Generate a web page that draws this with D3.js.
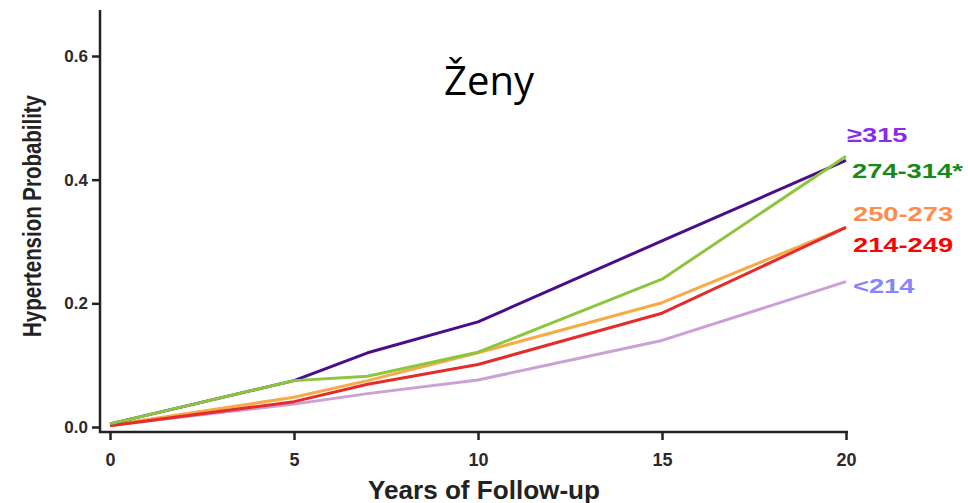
<!DOCTYPE html>
<html>
<head>
<meta charset="utf-8">
<script src="https://cdn.jsdelivr.net/npm/d3@7"></script>
<style>
  body { margin: 0; background: #fff; }
  svg { display: block; }
  .tick text { font-family: "Liberation Sans", Arial, sans-serif; font-weight: bold; fill: #2a2a2a; }
</style>
</head>
<body>
<svg id="chart" width="968" height="503"></svg>
<script>
// Data

var years = [0, 5, 7, 10, 15, 20];
var groups = ["≥315", "274-314*", "250-273", "214-249", "<214"];
var lt214 = [0.003, 0.037, 0.054, 0.076, 0.140, 0.235];
var g214_249 = [0.002, 0.041, 0.069, 0.101, 0.184, 0.323];
var g250_273 = [0.003, 0.048, 0.075, 0.120, 0.201, 0.323];
var g274_314 = [0.005, 0.075, 0.082, 0.121, 0.239, 0.438];
var ge315 = [0.005, 0.075, 0.120, 0.170, 0.301, 0.431];
var xTicks = [0, 5, 10, 15, 20];
var yTicks = [0, 0.2, 0.4, 0.6];

// Styles

var lineColors = {"≥315": "#4a0d8c", "274-314*": "#8cc63f", "250-273": "#f7aa45", "214-249": "#e62b2b", "<214": "#c9a1d4"};
var labelColors = {"≥315": "#8a2be8", "274-314*": "#168a16", "250-273": "#ff8c4c", "214-249": "#ff0000", "<214": "#8585ff"};
var labelY = {"≥315": 142, "274-314*": 178, "250-273": 221, "214-249": 252, "<214": 293};
var labelX = {"≥315": 847, "274-314*": 852, "250-273": 853, "214-249": 853, "<214": 853};

var seriesData = {"≥315": ge315, "274-314*": g274_314, "250-273": g250_273, "214-249": g214_249, "<214": lt214};
var drawOrder = ["<214", "250-273", "214-249", "≥315", "274-314*"];

// Chart

var svg = d3.select("#chart");

var x = d3.scaleLinear().domain([0, 20]).range([110, 846]);
var y = d3.scaleLinear().domain([0, 0.6]).range([427, 56]);
var axisX = 100, axisY = 432;

// y axis
var yAxis = svg.append("g")
    .attr("transform", "translate(" + axisX + ",0)")
    .call(d3.axisLeft(y).tickValues(yTicks).tickFormat(d3.format(".1f")).tickSize(8).tickSizeOuter(0));
yAxis.select(".domain").remove();
yAxis.selectAll(".tick line").attr("stroke", "#222").attr("stroke-width", 2.5);
yAxis.selectAll(".tick text").attr("font-size", 17).attr("x", -12);

svg.append("line")
    .attr("x1", axisX).attr("x2", axisX)
    .attr("y1", 10).attr("y2", axisY + 1)
    .attr("stroke", "#222").attr("stroke-width", 2.5);

// x axis
var xAxis = svg.append("g")
    .attr("transform", "translate(0," + axisY + ")")
    .call(d3.axisBottom(x).tickValues(xTicks).tickSize(8).tickSizeOuter(0));
xAxis.select(".domain").remove();
xAxis.selectAll(".tick line").attr("stroke", "#222").attr("stroke-width", 2.5);
xAxis.selectAll(".tick text").attr("font-size", 18).attr("y", 21);

svg.append("line")
    .attr("x1", axisX - 1).attr("x2", x(20) + 2)
    .attr("y1", axisY).attr("y2", axisY)
    .attr("stroke", "#222").attr("stroke-width", 2.5);

// lines
var line = d3.line()
    .x(function(d, i) { return x(years[i]); })
    .y(function(d) { return y(d); });

drawOrder.forEach(function(g) {
    svg.append("path")
        .attr("d", line(seriesData[g]))
        .attr("fill", "none")
        .attr("stroke", lineColors[g])
        .attr("stroke-width", 3)
        .attr("stroke-linejoin", "round");
});

// labels at line ends
groups.forEach(function(g) {
    svg.append("text")
        .attr("transform", "translate(" + labelX[g] + "," + labelY[g] + ") scale(1.3,1)")
        .attr("font-family", "Liberation Sans, Arial, sans-serif")
        .attr("font-weight", "bold")
        .attr("font-size", 21)
        .attr("fill", labelColors[g])
        .text(g);
});

// axis titles
svg.append("text")
    .attr("transform", "translate(41,216) rotate(-90)")
    .attr("text-anchor", "middle")
    .attr("font-family", "Liberation Sans, Arial, sans-serif")
    .attr("font-weight", "bold")
    .attr("font-size", 26)
    .attr("fill", "#222")
    .attr("textLength", 242)
    .attr("lengthAdjust", "spacingAndGlyphs")
    .text("Hypertension Probability");

svg.append("text")
    .attr("x", 484)
    .attr("y", 499)
    .attr("text-anchor", "middle")
    .attr("font-family", "Liberation Sans, Arial, sans-serif")
    .attr("font-weight", "bold")
    .attr("font-size", 25)
    .attr("fill", "#222")
    .attr("textLength", 232)
    .attr("lengthAdjust", "spacingAndGlyphs")
    .text("Years of Follow-up");

// title
svg.append("text")
    .attr("x", 489)
    .attr("y", 95)
    .attr("text-anchor", "middle")
    .attr("font-family", "Open Sans, sans-serif")
    .attr("font-size", 40)
    .attr("fill", "#000")
    .text("Ženy");
</script>
</body>
</html>
